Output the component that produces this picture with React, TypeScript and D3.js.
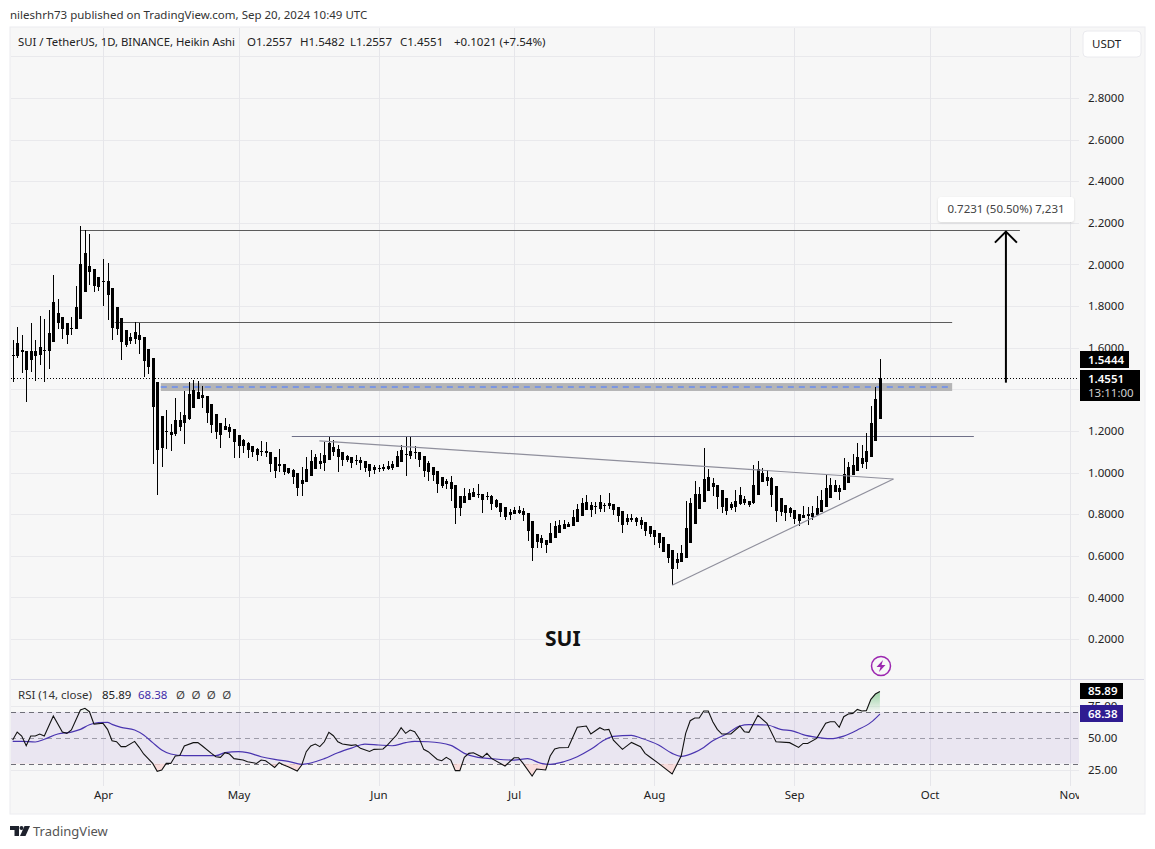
import {
  area,
  axisBottom,
  axisRight,
  curveMonotoneX,
  line,
  scaleLinear,
  scaleUtc,
  select,
  utcDay,
  utcFormat,
} from 'd3';
import React, { useEffect, useRef } from 'react';

const FONT = '"Noto Sans", sans-serif';

// daily Heikin Ashi candles, first one is 12 Mar 2024, last one 20 Sep 2024
const firstDay = new Date(Date.UTC(2024, 2, 12));
const wickHigh = [
  1.638,1.700,1.662,1.585,1.720,1.638,1.753,1.739,1.782,1.950,
  1.835,1.749,1.720,1.749,1.898,2.186,2.167,2.148,1.979,1.941,
  2.027,2.008,1.888,1.797,1.744,1.686,1.672,1.724,1.721,1.652,
  1.595,1.551,1.436,1.273,1.301,1.234,1.359,1.292,1.393,1.436,
  1.446,1.441,1.417,1.369,1.330,1.282,1.239,1.263,1.234,1.210,
  1.181,1.162,1.148,1.128,1.119,1.152,1.148,1.099,1.075,1.114,
  1.042,1.023,1.018,.999,1.027,1.075,1.107,1.089,1.093,1.147,
  1.171,1.157,1.133,1.099,1.085,1.075,1.085,1.075,1.056,1.041,
  1.037,1.037,1.041,1.056,1.056,1.104,1.133,1.171,1.171,1.128,
  1.099,1.080,1.056,1.027,1.008,.979,.969,.984,.940,.888,
  .926,.921,.926,.945,.897,.907,.892,.873,.854,.835,
  .825,.835,.839,.830,.806,.767,.705,.700,.676,.758,
  .767,.772,.772,.762,.820,.849,.876,.892,.860,.860,
  .892,.852,.900,.849,.835,.815,.801,.801,.788,.786,
  .762,.743,.724,.710,.690,.657,.628,.614,.652,.863,
  .878,.960,.931,1.118,1.017,.974,.940,.916,.878,.859,
  .916,.931,.888,.864,1.037,1.056,1.022,1.012,.979,.936,
  .878,.844,.835,.820,.801,.839,.835,.839,.888,.916,
  .989,.974,.965,.940,1.070,1.051,1.090,1.143,1.133,1.191,
  1.320,1.412,1.548,
];
const bodyHigh = [
  1.563,1.622,1.590,1.585,1.585,1.585,1.604,1.591,1.672,1.821,
  1.768,1.749,1.720,1.696,1.797,2.003,2.056,1.994,1.979,1.941,
  1.922,1.922,1.888,1.797,1.744,1.686,1.652,1.676,1.662,1.652,
  1.595,1.551,1.436,1.273,1.202,1.196,1.253,1.253,1.277,1.378,
  1.398,1.388,1.374,1.369,1.330,1.282,1.239,1.224,1.220,1.210,
  1.181,1.157,1.143,1.128,1.114,1.104,1.104,1.099,1.075,1.042,
  1.042,1.023,1.013,.999,.964,1.017,1.056,1.075,1.056,1.085,
  1.142,1.123,1.113,1.099,1.080,1.075,1.061,1.061,1.056,1.041,
  1.027,1.024,1.025,1.032,1.041,1.080,1.109,1.091,1.104,1.101,
  1.099,1.080,1.046,1.027,1.008,.979,.960,.955,.940,.888,
  .888,.902,.907,.897,.897,.888,.888,.868,.854,.835,
  .811,.820,.820,.815,.806,.767,.705,.686,.676,.710,
  .743,.748,.753,.753,.787,.825,.855,.857,.844,.839,
  .859,.846,.854,.849,.835,.815,.783,.781,.783,.772,
  .762,.743,.724,.710,.690,.657,.628,.585,.614,.734,
  .854,.897,.897,.969,.979,.950,.940,.916,.878,.849,
  .864,.893,.873,.864,.940,1.017,.998,.979,.974,.936,
  .878,.844,.830,.820,.801,.796,.799,.806,.830,.868,
  .926,.940,.940,.926,.993,1.027,1.037,1.075,1.070,1.104,
  1.239,1.354,1.455,
];
const bodyLow = [
  1.558,1.558,1.577,1.495,1.539,1.558,1.567,1.587,1.582,1.625,
  1.721,1.688,1.659,1.688,1.692,1.740,1.870,1.962,1.898,1.893,
  1.918,1.851,1.697,1.688,1.625,1.614,1.633,1.644,1.638,1.534,
  1.508,1.317,1.106,1.120,1.197,1.181,1.186,1.220,1.236,1.255,
  1.311,1.354,1.359,1.287,1.229,1.196,1.181,1.205,1.196,1.148,
  1.128,1.128,1.109,1.099,1.085,1.099,1.095,1.042,1.008,1.032,
  1.003,.999,.979,.926,.945,.955,.984,1.017,1.041,1.046,
  1.061,1.099,1.075,1.061,1.061,1.046,1.054,1.046,1.022,1.008,
  1.012,1.017,1.019,1.017,1.022,1.027,1.051,1.085,1.080,1.094,
  1.061,1.008,1.003,.988,.945,.936,.945,.921,.830,.830,
  .854,.868,.883,.891,.868,.881,.849,.835,.811,.787,
  .796,.801,.806,.796,.719,.637,.666,.661,.652,.661,
  .686,.710,.729,.738,.743,.762,.793,.820,.820,.833,
  .825,.841,.840,.820,.791,.748,.762,.772,.762,.748,
  .719,.705,.690,.662,.618,.590,.537,.565,.570,.590,
  .662,.753,.825,.859,.912,.931,.883,.835,.815,.830,
  .835,.849,.854,.844,.854,.893,.955,.960,.893,.815,
  .811,.806,.806,.777,.767,.781,.793,.786,.795,.811,
  .835,.878,.907,.907,.916,.950,.989,1.008,1.041,1.051,
  1.075,1.152,1.256,
];
const wickLow = [
  1.433,1.551,1.476,1.341,1.484,1.438,1.518,1.433,1.500,1.625,
  1.688,1.644,1.620,1.659,1.691,1.740,1.870,1.902,1.870,1.873,
  1.801,1.731,1.638,1.659,1.542,1.601,1.620,1.620,1.571,1.460,
  1.474,1.042,.890,1.027,1.114,1.104,1.176,1.200,1.138,1.253,
  1.311,1.354,1.311,1.239,1.191,1.162,1.119,1.205,1.167,1.071,
  1.071,1.095,1.071,1.075,1.056,1.080,1.075,1.003,.974,1.003,
  .989,.994,.946,.888,.888,.955,.984,1.017,1.017,1.008,
  1.061,1.080,1.003,1.032,1.051,1.022,1.037,1.012,1.003,.979,
  .993,1.003,1.008,1.012,1.012,1.027,1.051,.984,1.065,1.065,
  1.027,.979,.960,.960,.902,.926,.921,.863,.753,.791,
  .854,.868,.883,.878,.806,.868,.820,.830,.787,.772,
  .772,.801,.801,.767,.671,.575,.637,.637,.613,.661,
  .686,.710,.729,.738,.743,.762,.793,.820,.788,.801,
  .812,.812,.823,.796,.762,.710,.748,.762,.743,.729,
  .695,.690,.652,.638,.618,.565,.460,.537,.570,.590,
  .662,.753,.825,.859,.912,.888,.825,.806,.796,.820,
  .811,.844,.844,.835,.849,.893,.955,.936,.835,.762,
  .791,.767,.786,.753,.743,.781,.748,.772,.791,.811,
  .835,.878,.907,.868,.916,.950,.989,1.008,1.022,1.017,
  1.075,1.152,1.256,
];

const rsiLine: [number, number][] = [
  [0,48.2],[1,54.4],[2,51.3],[3,43.8],[4,51.3],[5,51.3],[6,52.9],[7,51.3],[9,66.8],[11,54.4],
  [12,53.4],[13,56.0],[15,71.5],[16,72.8],[17,70.2],[18,60.6],[20,61.2],[21,56.5],[22,47.7],[23,46.9],
  [24,43.1],[25,43.1],[27,47.2],[28,42.6],[29,37.4],[31,30.1],[32,24.0],[33,25.0],[34,30.1],[35,30.1],
  [36,35.8],[37,36.3],[38,43.6],[40,46.2],[41,46.2],[42,43.6],[44,37.9],[45,35.3],[46,34.8],[47,38.4],
  [48,37.4],[49,33.8],[51,32.7],[52,31.4],[54,30.1],[55,32.7],[56,32.2],[58,27.0],[59,30.7],[60,28.9],
  [61,27.6],[63,24.2],[64,28.9],[65,39.2],[66,43.6],[67,45.1],[68,43.1],[69,46.9],[70,54.2],[71,51.6],
  [72,46.9],[73,45.1],[75,44.1],[76,44.6],[77,41.8],[79,39.4],[80,41.0],[82,41.3],[83,44.4],[85,52.1],
  [86,57.8],[87,53.4],[88,56.0],[89,54.7],[90,49.5],[91,41.0],[92,39.2],[94,33.2],[95,32.2],[96,34.8],
  [97,32.7],[98,24.5],[99,24.5],[100,34.8],[101,37.9],[102,38.4],[104,34.8],[105,37.9],[106,34.0],[109,28.1],
  [111,34.5],[112,34.5],[113,30.1],[115,20.3],[116,25.8],[118,25.0],[119,35.8],[120,41.3],[121,42.3],[123,42.5],
  [125,58.1],[127,59.1],[128,52.9],[130,57.8],[131,56.0],[132,56.5],[133,48.2],[135,41.0],[137,46.4],[139,43.1],
  [140,37.9],[141,35.3],[143,30.1],[146,21.9],[147,28.9],[148,35.8],[149,53.4],[150,63.2],[151,65.3],[152,65.3],
  [153,70.7],[154,70.7],[155,62.4],[156,56.5],[157,52.9],[159,52.9],[161,59.1],[162,54.7],[163,54.2],[165,67.4],
  [167,61.2],[169,46.9],[172,46.2],[174,42.5],[175,45.6],[176,45.6],[178,49.5],[180,61.2],[181,62.4],[182,62.4],
  [183,58.1],[184,66.3],[185,68.4],[186,68.9],[187,72.0],[188,70.7],[189,71.0],[190,79.8],[191,83.9],[192,85.89],
];
const rsiAverage: [number, number][] = [
  [0,47.2],[2,47.2],[5,46.7],[7,48.8],[10,52.9],[13,54.4],[15,56.5],[17,60.1],[19,61.7],[21,61.9],
  [22,60.4],[24,58.1],[27,56.0],[29,52.1],[31,46.2],[33,40.5],[35,37.4],[38,36.1],[41,36.1],[45,36.1],
  [47,38.4],[50,39.2],[52,38.4],[55,35.3],[58,33.2],[61,31.7],[64,29.4],[69,33.8],[72,38.4],[75,42.0],
  [78,45.1],[81,44.4],[84,43.8],[87,46.2],[89,47.2],[92,46.9],[97,44.1],[100,37.9],[103,34.8],[106,33.8],
  [111,32.7],[114,33.8],[117,30.1],[119,29.4],[122,31.4],[125,35.3],[128,41.0],[131,48.2],[133,51.1],[137,51.8],
  [139,49.8],[143,44.4],[146,37.9],[148,35.6],[151,38.7],[153,42.5],[155,47.7],[158,52.9],[161,59.1],[163,60.1],
  [167,59.9],[170,56.5],[173,55.0],[175,52.4],[178,50.3],[181,49.3],[184,51.3],[187,56.0],[190,61.9],[192,68.38],
];

// 1.4000 sits behind the last price tag in the picture, so only its grid line shows
const priceTicks = [0.2, 0.4, 0.6, 0.8, 1.0, 1.2, 1.6, 1.8, 2.0, 2.2, 2.4, 2.6, 2.8];
const priceGrid = [...priceTicks, 1.4, 3.0];
const rsiTicks = [25, 50, 75];
const rsiBands = [30, 50, 70];
const monthTicks = [3, 4, 5, 6, 7, 8, 9, 10].map((m) => new Date(Date.UTC(2024, m, 1)));

// hand drawn levels, [from candle, to candle, price]
const levelLines: [number, number, number][] = [
  [14.9, 223, 2.166],
  [22.6, 208, 1.722],
  [61.8, 212.8, 1.175],
];
const triangleUpper: [number, number][] = [[67.9, 1.152], [195, 0.969]];
const triangleLower: [number, number][] = [[146, 0.458], [195, 0.969]];
const zone = { from: 32.8, to: 208, top: 1.43, bottom: 1.392, mid: 1.4115 };
const arrowDay = 219.9;
const arrowFrom = 1.432;
const arrowTo = 2.158;
const lastClose = 1.4551;
const lastHigh = 1.5444;

const App: React.FC = () => {
  const svgRef = useRef<SVGSVGElement>(null);

  useEffect(() => {
    const svg = select(svgRef.current);
    svg.selectAll('*').remove();

    const dayOf = (n: number) => firstDay.getTime() + n * 86400000;
    const xScale = scaleUtc()
      .domain([firstDay, utcDay.offset(firstDay, 192)])
      .range([12.67, 879.9]);
    const x = (n: number) => xScale(dayOf(n));
    const yScale = scaleLinear().domain([0.2, 2.8]).range([639, 98]);
    const rsiScale = scaleLinear().domain([25, 75]).range([770, 705.5]);
    const plotRight = 1079;

    const defs = svg.append('defs');
    defs.append('clipPath').attr('id', 'plot').append('rect')
      .attr('x', 10).attr('y', 28).attr('width', plotRight - 10).attr('height', 786);
    defs.append('clipPath').attr('id', 'above70').append('rect')
      .attr('x', 10).attr('y', 680).attr('width', plotRight - 10).attr('height', rsiScale(70) - 680);
    defs.append('clipPath').attr('id', 'below30').append('rect')
      .attr('x', 10).attr('y', rsiScale(30)).attr('width', plotRight - 10).attr('height', 40);
    const grad = defs.append('linearGradient').attr('id', 'obFill')
      .attr('gradientUnits', 'userSpaceOnUse')
      .attr('x1', 0).attr('x2', 0).attr('y1', rsiScale(86)).attr('y2', rsiScale(70));
    grad.append('stop').attr('offset', '0%').attr('stop-color', '#8fce9a').attr('stop-opacity', 0.9);
    grad.append('stop').attr('offset', '100%').attr('stop-color', '#8fce9a').attr('stop-opacity', 0.03);

    // panel
    svg.append('rect').attr('x', 10).attr('y', 27).attr('width', 1135).attr('height', 787)
      .attr('fill', '#f7f7f7').attr('stroke', '#ececf0');

    // Grid
    svg.append('g').selectAll('line').data(priceGrid).join('line')
      .attr('x1', 11).attr('x2', plotRight)
      .attr('y1', (d) => Math.round(yScale(d)) + 0.5).attr('y2', (d) => Math.round(yScale(d)) + 0.5)
      .attr('stroke', '#e9e9ec');
    svg.append('g').selectAll('line').data(rsiTicks.filter((d) => d !== 50)).join('line')
      .attr('x1', 11).attr('x2', plotRight)
      .attr('y1', (d) => Math.round(rsiScale(d)) + 0.5).attr('y2', (d) => Math.round(rsiScale(d)) + 0.5)
      .attr('stroke', '#e9e9ec');
    svg.append('g').selectAll('line').data(monthTicks).join('line')
      .attr('x1', (d) => Math.round(xScale(d)) + 0.5).attr('x2', (d) => Math.round(xScale(d)) + 0.5)
      .attr('y1', 28).attr('y2', 786)
      .attr('stroke', '#e6e6ea');
    svg.append('line').attr('x1', 11).attr('x2', 1144).attr('y1', 679.5).attr('y2', 679.5)
      .attr('stroke', '#d9d8e6').attr('stroke-width', 1.2);

    // Zone behind the candles
    svg.append('rect')
      .attr('x', x(zone.from)).attr('width', x(zone.to) - x(zone.from))
      .attr('y', yScale(zone.top)).attr('height', yScale(zone.bottom) - yScale(zone.top))
      .attr('fill', '#b5b5b6');
    svg.append('line')
      .attr('x1', x(zone.from)).attr('x2', x(zone.to))
      .attr('y1', yScale(zone.mid)).attr('y2', yScale(zone.mid))
      .attr('stroke', '#7b96e2').attr('stroke-width', 2).attr('stroke-dasharray', '6 5');

    // Level lines
    svg.append('g').selectAll('line').data(levelLines).join('line')
      .attr('x1', (d) => x(d[0])).attr('x2', (d) => x(d[1]))
      .attr('y1', (d) => Math.round(yScale(d[2])) + 0.5).attr('y2', (d) => Math.round(yScale(d[2])) + 0.5)
      .attr('stroke', (d) => (d[2] < 1.5 ? '#6f7088' : '#5c5c5c')).attr('stroke-width', 1);

    // Candles
    const candles = wickHigh.map((h, i) => ({
      i, h, t: bodyHigh[i], b: bodyLow[i], l: wickLow[i],
    }));
    const cg = svg.append('g').attr('shape-rendering', 'crispEdges').attr('fill', '#000');
    cg.selectAll('.wick').data(candles).join('rect').attr('class', 'wick')
      .attr('x', (d) => Math.round(x(d.i)))
      .attr('width', 1)
      .attr('y', (d) => yScale(d.h))
      .attr('height', (d) => yScale(d.l) - yScale(d.h));
    cg.selectAll('.bars').data(candles).join('rect').attr('class', 'bars')
      .attr('x', (d) => Math.round(x(d.i)) - 1)
      .attr('width', 3)
      .attr('y', (d) => yScale(d.t))
      .attr('height', (d) => Math.max(1, yScale(d.b) - yScale(d.t)));

    // Triangle
    const trend = line<[number, number]>().x((d) => x(d[0])).y((d) => yScale(d[1]));
    [triangleUpper, triangleLower].forEach((pts) => {
      svg.append('path').attr('d', trend(pts)).attr('fill', 'none')
        .attr('stroke', '#8f8f9c').attr('stroke-width', 1.2);
    });

    // Last price dotted
    svg.append('line').attr('x1', 11).attr('x2', plotRight)
      .attr('y1', Math.round(yScale(lastClose)) + 0.5).attr('y2', Math.round(yScale(lastClose)) + 0.5)
      .attr('stroke', '#000').attr('stroke-dasharray', '1 2');

    // Target arrow
    const ax = x(arrowDay);
    const aTop = yScale(arrowTo);
    svg.append('line').attr('x1', ax).attr('x2', ax).attr('y1', yScale(arrowFrom)).attr('y2', aTop)
      .attr('stroke', '#000').attr('stroke-width', 2);
    svg.append('path')
      .attr('d', `M${ax - 11},${aTop + 11} L${ax},${aTop} L${ax + 11},${aTop + 11}`)
      .attr('fill', 'none').attr('stroke', '#000').attr('stroke-width', 2);

    // Arrow label
    svg.append('rect').attr('x', 938).attr('y', 197).attr('width', 136).attr('height', 25).attr('rx', 3)
      .attr('fill', '#fff').style('filter', 'drop-shadow(0 1px 1px rgba(0,0,0,0.12))');
    svg.append('text').attr('x', 1006).attr('y', 213).attr('text-anchor', 'middle')
      .attr('font-family', FONT).attr('font-size', 11.5).attr('fill', '#444')
      .text('0.7231 (50.50%) 7,231');

    // RSI band
    svg.append('rect').attr('x', 11).attr('width', plotRight - 11)
      .attr('y', rsiScale(70)).attr('height', rsiScale(30) - rsiScale(70))
      .attr('fill', '#7e57c2').attr('fill-opacity', 0.1);
    svg.append('g').selectAll('line').data(rsiBands).join('line')
      .attr('x1', 11).attr('x2', plotRight)
      .attr('y1', (d) => Math.round(rsiScale(d)) + 0.5).attr('y2', (d) => Math.round(rsiScale(d)) + 0.5)
      .attr('stroke', (d) => (d === 50 ? '#9d9ba8' : '#6f6f78'))
      .attr('stroke-dasharray', '5 4');

    // RSI fills
    const rsiX = (d: [number, number]) => x(d[0]);
    const rsiY = (d: [number, number]) => rsiScale(d[1]);
    svg.append('path')
      .attr('d', area<[number, number]>().x(rsiX).y0(rsiScale(70)).y1(rsiY)(rsiLine))
      .attr('clip-path', 'url(#above70)').attr('fill', 'url(#obFill)');
    svg.append('path')
      .attr('d', area<[number, number]>().x(rsiX).y0(rsiScale(30)).y1(rsiY)(rsiLine))
      .attr('clip-path', 'url(#below30)').attr('fill', '#f9d6d4').attr('fill-opacity', 0.8);

    // RSI lines
    svg.append('path')
      .attr('d', line<[number, number]>().x(rsiX).y(rsiY).curve(curveMonotoneX)(rsiAverage))
      .attr('fill', 'none').attr('stroke', '#4a35b0').attr('stroke-width', 1.2);
    svg.append('path')
      .attr('d', line<[number, number]>().x(rsiX).y(rsiY)(rsiLine))
      .attr('fill', 'none').attr('stroke', '#111').attr('stroke-width', 1.1);

    // Axis
    const priceAxis = axisRight(yScale).tickValues(priceTicks).tickSize(0).tickPadding(0)
      .tickFormat((d) => (d as number).toFixed(4));
    const gy = svg.append('g').attr('transform', 'translate(1088,0)').call(priceAxis);
    const rsiAxis = axisRight(rsiScale).tickValues(rsiTicks).tickSize(0).tickPadding(0)
      .tickFormat((d) => (d as number).toFixed(2));
    const gr = svg.append('g').attr('transform', 'translate(1088,0)').call(rsiAxis);
    const timeAxis = axisBottom(xScale).tickValues(monthTicks).tickSize(0).tickPadding(0)
      .tickFormat((d) => utcFormat('%b')(d as Date));
    const gx = svg.append('g').attr('clip-path', 'url(#plot)')
      .append('g').attr('transform', 'translate(0,791)')
      .call(timeAxis as any);
    [gy, gr, gx].forEach((g: any) => {
      g.select('.domain').remove();
      g.selectAll('text').attr('font-family', FONT).attr('font-size', 11.5).attr('fill', '#222');
    });

    // Price tags
    const tag = (x0: number, y0: number, w: number, h: number, fill: string) =>
      svg.append('rect').attr('x', x0).attr('y', y0).attr('width', w).attr('height', h).attr('fill', fill);
    const label = (tx: number, ty: number, s: string, fill: string, size = 11.5, weight = 400) =>
      svg.append('text').attr('x', tx).attr('y', ty).attr('font-family', FONT)
        .attr('font-size', size).attr('font-weight', weight).attr('fill', fill).text(s);

    tag(1080, 351, 49, 17, '#000');
    label(1088, 364, lastHigh.toFixed(4), '#fff', 11.5, 600);
    tag(1080, 370, 60, 31, '#000');
    label(1088, 383, lastClose.toFixed(4), '#fff', 11.5, 600);
    label(1088, 397, '13:11:00', '#d0d0d0', 11.5);
    tag(1080, 683, 43, 16, '#000');
    label(1088, 695, '85.89', '#fff', 11.5, 600);
    tag(1080, 705, 43, 17, '#2f1c91');
    label(1088, 718, '68.38', '#fff', 11.5, 600);

    // USDT button
    svg.append('rect').attr('x', 1083).attr('y', 31).attr('width', 58).attr('height', 26).attr('rx', 4)
      .attr('fill', '#fff').attr('stroke', '#eaeaee');
    label(1092, 48, 'USDT', '#222', 11.5);

    // Header and legends
    label(10, 19, 'nileshrh73 published on TradingView.com, Sep 20, 2024 10:49 UTC', '#333', 11.5);
    label(18, 46, 'SUI / TetherUS, 1D, BINANCE, Heikin Ashi', '#222', 11.3);
    label(247, 46, 'O1.2557', '#222', 11.5);
    label(300, 46, 'H1.5482', '#222', 11.5);
    label(350, 46, 'L1.2557', '#222', 11.5);
    label(400, 46, 'C1.4551', '#222', 11.5);
    label(454, 46, '+0.1021 (+7.54%)', '#222', 11.5);
    label(18, 699, 'RSI (14, close)', '#333', 11.5);
    label(102, 699, '85.89', '#222', 11.5);
    label(138, 699, '68.38', '#3f2ba8', 11.5);
    ['Ø', 'Ø', 'Ø', 'Ø'].forEach((s, i) => label(176 + i * 15.4, 699, s, '#444', 11.5));

    // Chart name
    label(545, 646, 'SUI', '#111', 21, 700);

    // Alert icon
    svg.append('circle').attr('cx', 881).attr('cy', 666).attr('r', 9.5)
      .attr('fill', 'none').attr('stroke', '#9c27b0').attr('stroke-width', 1.5);
    svg.append('path').attr('d', 'M883,660 L876.5,667 L880.5,667 L879,672 L885.5,665 L881.5,665 Z')
      .attr('fill', '#9c27b0');

    // Footer logo
    svg.append('path').attr('d', 'M10,826 H19 V836 H14.5 V830 H10 Z').attr('fill', '#1e222d');
    svg.append('circle').attr('cx', 21.5).attr('cy', 828).attr('r', 2).attr('fill', '#1e222d');
    svg.append('path').attr('d', 'M24.5,826 H30 L25.5,836 H20 Z').attr('fill', '#1e222d');
    label(33, 836, 'TradingView', '#555', 13);
  }, []);

  return (
    <svg
      ref={svgRef}
      width={1155}
      height={849}
      style={{ position: 'absolute', left: 0, top: 0, display: 'block', background: '#fff' }}
    />
  );
};

export default App;
